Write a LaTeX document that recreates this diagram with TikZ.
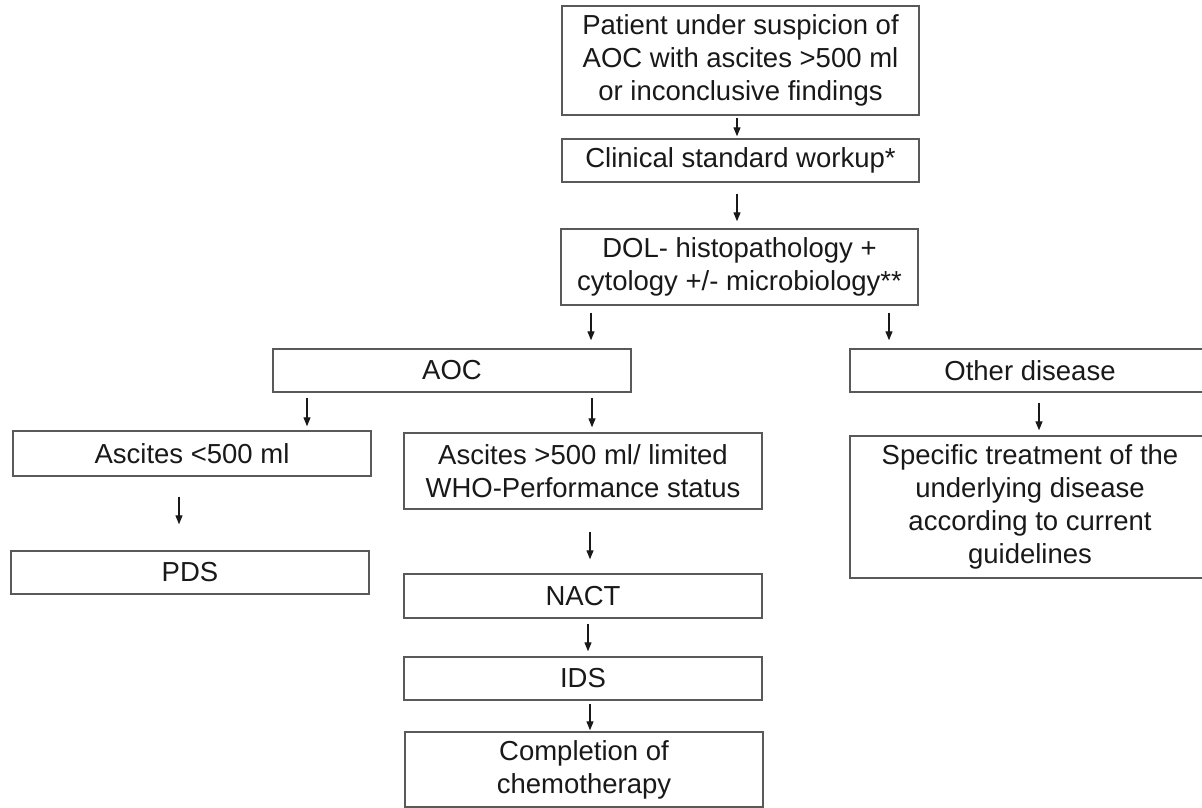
\documentclass[tikz,border=0pt]{standalone}
\usepackage{fontspec}
\setmainfont{Liberation Sans}
\usetikzlibrary{arrows.meta}
\begin{document}
\begin{tikzpicture}[x=1pt,y=-1pt,
  box/.style={draw=black!65, line width=1.4pt, rectangle, inner sep=0pt, align=center,
    font=\fontsize{27.5}{33}\selectfont, text=black!90},
  arr/.style={-{Triangle[length=9pt,width=7pt]}, line width=1.2pt, black!90}]
\useasboundingbox (0,0) rectangle (1202,808);
\clip (0,0) rectangle (1202,808);
\fill[white] (0,0) rectangle (1202,808);
% nodes
\node[box, minimum width=357, minimum height=109] (top) at (740.5,60.5) {Patient under suspicion of\\AOC with ascites >500 ml\\or inconclusive findings};
\node[box, minimum width=357, minimum height=43] (clin) at (740.5,160.5) {Clinical standard workup*};
\node[box, minimum width=357, minimum height=76] (dol) at (739.5,267) {DOL- histopathology +\\cytology +/- microbiology**};
\node[box, minimum width=358, minimum height=43] (aoc) at (452,370.5) {AOC};
\node[box, minimum width=360, minimum height=43] (other) at (1030,370.5) {Other disease};
\node[box, minimum width=358, minimum height=45] (asclow) at (192,453.5) {Ascites <500 ml};
\node[box, minimum width=358, minimum height=76] (aschigh) at (583,471) {Ascites >500 ml/ limited\\WHO-Performance status};
\node[box, minimum width=360, minimum height=142] (spec) at (1030,507) {Specific treatment of the\\underlying disease\\according to current\\guidelines};
\node[box, minimum width=358, minimum height=43] (pds) at (190,572.5) {PDS};
\node[box, minimum width=358, minimum height=44] (nact) at (583,596) {NACT};
\node[box, minimum width=358, minimum height=43] (ids) at (583,678.5) {IDS};
\node[box, minimum width=358, minimum height=75] (comp) at (584,769.5) {Completion of\\chemotherapy};
% connectors
\draw[arr, shorten <=2, shorten >=2] (top.south -| 737,0) -- (clin.north -| 737,0);
\draw[arr, shorten <=11, shorten >=7] (clin.south -| 737,0) -- (dol.north -| 737,0);
\draw[arr, shorten <=7, shorten >=8] (dol.south -| 591,0) -- (aoc.north -| 591,0);
\draw[arr, shorten <=7, shorten >=8] (dol.south -| 889,0) -- (other.north -| 889,0);
\draw[arr, shorten <=5, shorten >=4] (aoc.south -| 307,0) -- (asclow.north -| 307,0);
\draw[arr, shorten <=5, shorten >=5] (aoc.south -| 592,0) -- (aschigh.north -| 592,0);
\draw[arr, shorten <=10, shorten >=5] (other.south -| 1039,0) -- (spec.north -| 1039,0);
\draw[arr, shorten <=20, shorten >=26] (asclow.south -| 179,0) -- (pds.north -| 179,0);
\draw[arr, shorten <=22, shorten >=14] (aschigh.south -| 590,0) -- (nact.north -| 590,0);
\draw[arr, shorten <=5, shorten >=5] (nact.south -| 588,0) -- (ids.north -| 588,0);
\draw[arr, shorten <=3, shorten >=1] (ids.south -| 590,0) -- (comp.north -| 590,0);
\end{tikzpicture}
\end{document}
